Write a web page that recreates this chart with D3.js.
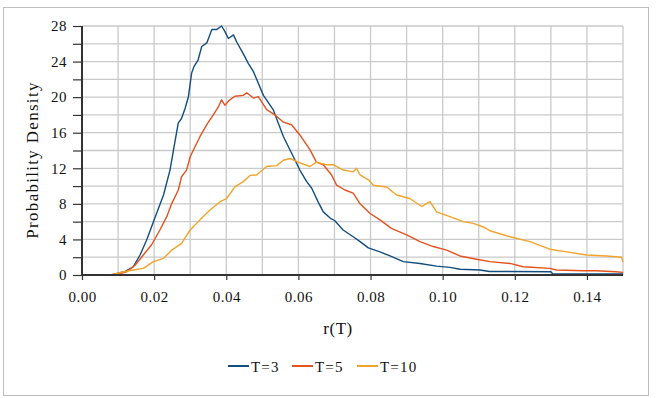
<!DOCTYPE html>
<html>
<head>
  <meta charset="utf-8" />
  <title>Probability Density of r(T)</title>
  <style>
    body { margin: 0; background: #fff; }
    text { font-family: "Liberation Serif", "Times New Roman", serif; fill: #111; }
  </style>
  <script src="https://cdnjs.cloudflare.com/ajax/libs/d3/7.8.5/d3.min.js"></script>
</head>
<body>
  <div id="chart"></div>
  <script>
    // values
    var seriesNames = ['T=3', 'T=5', 'T=10'];
    var seriesColors = ['#124e7e', '#e2531f', '#f0a42b'];

    var r3 = [0, 0.008, 0.010, 0.012, 0.0142, 0.0161, 0.0179, 0.0202, 0.0226, 0.0244, 0.0256, 0.0267, 0.0276, 0.0286, 0.0295,
      0.0304, 0.031, 0.0322, 0.0332, 0.0346, 0.036, 0.0373, 0.0387, 0.0396, 0.0406, 0.042, 0.0429, 0.0447, 0.0461, 0.0475,
      0.0503, 0.053, 0.0558, 0.0586, 0.0604, 0.0623, 0.0637, 0.0655, 0.0669, 0.0688, 0.0701, 0.0724, 0.0752, 0.0771, 0.0794,
      0.0826, 0.0854, 0.0891, 0.0937, 0.0983, 0.102, 0.1048, 0.1103, 0.113, 0.13, 0.1305, 0.15];
    var dens3 = [0, 0, 0.2, 0.4, 0.93, 2.25, 3.9, 6.4, 9.0, 11.8, 14.6, 17.1, 17.6, 18.75, 20.05,
      22.7, 23.4, 24.2, 25.7, 26.1, 27.6, 27.6, 28.0, 27.4, 26.6, 27.0, 26.2, 24.9, 23.8, 22.9,
      20.2, 18.6, 15.6, 13.3, 11.8, 10.5, 9.75, 8.2, 7.1, 6.4, 6.1, 5.06, 4.3, 3.75, 3.05,
      2.6, 2.14, 1.5, 1.3, 1.0, 0.86, 0.64, 0.56, 0.4, 0.37, 0.15, 0.12];

    var r5 = [0, 0.008, 0.0105, 0.0124, 0.0147, 0.017, 0.0193, 0.0216, 0.0235, 0.0249, 0.0267, 0.0276, 0.029, 0.03, 0.0313,
      0.0327, 0.0346, 0.0364, 0.0378, 0.0387, 0.0396, 0.041, 0.0424, 0.0447, 0.0457, 0.0475, 0.0489, 0.0512, 0.0535, 0.0558,
      0.0581, 0.0604, 0.0632, 0.065, 0.0669, 0.0692, 0.0706, 0.0729, 0.0752, 0.0771, 0.0798, 0.0826, 0.0858, 0.09, 0.0937,
      0.0974, 0.1011, 0.1048, 0.1094, 0.1131, 0.1187, 0.1223, 0.1297, 0.1316, 0.139, 0.1427, 0.148, 0.15];
    var dens5 = [0, 0, 0.15, 0.37, 1.1, 2.25, 3.4, 5.06, 6.56, 8.06, 9.56, 11.05, 11.8, 13.3, 14.4,
      15.55, 16.9, 18.0, 18.9, 19.7, 19.1, 19.7, 20.1, 20.2, 20.5, 19.9, 20.05, 18.6, 18.0, 17.2,
      16.9, 15.75, 14.1, 12.7, 12.4, 11.25, 10.1, 9.56, 9.2, 8.0, 6.94, 6.2, 5.25, 4.5, 3.75,
      3.2, 2.8, 2.14, 1.77, 1.5, 1.3, 0.93, 0.75, 0.56, 0.48, 0.48, 0.37, 0.3];

    var r10 = [0, 0.008, 0.0115, 0.0142, 0.017, 0.0198, 0.0226, 0.0249, 0.0276, 0.03, 0.0327, 0.0355, 0.0383, 0.0401, 0.0424,
      0.0447, 0.0466, 0.0484, 0.0512, 0.054, 0.0558, 0.0577, 0.0604, 0.0632, 0.065, 0.0678, 0.0697, 0.0724, 0.0752, 0.0761,
      0.0771, 0.0794, 0.0808, 0.0845, 0.0872, 0.0909, 0.0942, 0.0956, 0.0965, 0.0983, 0.102, 0.1057, 0.1085, 0.1113, 0.1131,
      0.1187, 0.1242, 0.1297, 0.1344, 0.1399, 0.1455, 0.1496, 0.15];
    var dens10 = [0, 0, 0.37, 0.56, 0.75, 1.5, 1.87, 2.8, 3.56, 5.06, 6.2, 7.3, 8.24, 8.6, 9.9,
      10.5, 11.2, 11.25, 12.2, 12.3, 12.9, 13.1, 12.6, 12.2, 12.7, 12.4, 12.4, 11.8, 11.6, 12.0,
      11.25, 10.7, 10.1, 9.9, 9.0, 8.6, 7.7, 8.06, 8.24, 7.1, 6.56, 6.0, 5.8, 5.4, 4.98,
      4.3, 3.75, 2.9, 2.6, 2.25, 2.14, 2.0, 1.5];

    var xTicks = [0, 0.02, 0.04, 0.06, 0.08, 0.10, 0.12, 0.14];
    var yTicks = [0, 4, 8, 12, 16, 20, 24, 28];

    var W = 656, H = 398;
    var plotL = 82, plotR = 623, plotT = 26, plotB = 275;

    var svg = d3.select('#chart').append('svg')
      .attr('width', W)
      .attr('height', H);

    // outer frame
    svg.append('rect')
      .attr('x', 3.5).attr('y', 7.5)
      .attr('width', 645).attr('height', 388)
      .attr('fill', '#fff')
      .attr('stroke', '#bdbdbd');

    var x = d3.scaleLinear().domain([0, 0.15]).range([plotL, plotR]);
    var y = d3.scaleLinear().domain([0, 28]).range([plotB, plotT]);

    // grid
    svg.append('g')
      .selectAll('line')
      .data(d3.range(1, 16).map(i => i / 100))
      .enter().append('line')
      .attr('x1', d => x(d)).attr('x2', d => x(d))
      .attr('y1', plotT).attr('y2', plotB)
      .attr('stroke', '#cacaca').attr('stroke-width', 1.3);

    svg.append('g')
      .selectAll('line')
      .data(d3.range(1, 15).map(i => i * 2))
      .enter().append('line')
      .attr('x1', plotL).attr('x2', plotR)
      .attr('y1', d => y(d)).attr('y2', d => y(d))
      .attr('stroke', '#cacaca').attr('stroke-width', 1.3);

    // y axis
    var yAxis = d3.axisLeft(y)
      .tickValues(d3.range(0, 29, 2))
      .tickSize(9)
      .tickFormat(d => yTicks.indexOf(d) >= 0 ? d : '');
    var gy = svg.append('g').attr('transform', 'translate(' + plotL + ',0)').call(yAxis);
    gy.select('.domain').remove();
    gy.selectAll('.tick line').attr('stroke', '#333').attr('stroke-width', 1.2);
    gy.selectAll('.tick text')
      .attr('x', -15)
      .style('font-family', '"Liberation Serif", serif')
      .style('font-size', '15px')
      .style('letter-spacing', '0.5px')
      .attr('fill', '#111');

    // x axis
    var xAxis = d3.axisBottom(x)
      .tickValues(xTicks)
      .tickSize(5)
      .tickFormat(d3.format('.2f'));
    var gx = svg.append('g').attr('transform', 'translate(0,' + plotB + ')').call(xAxis);
    gx.select('.domain').remove();
    gx.selectAll('.tick line').attr('stroke', '#333').attr('stroke-width', 1.2);
    gx.selectAll('.tick text')
      .attr('y', 16)
      .style('font-family', '"Liberation Serif", serif')
      .style('font-size', '15px')
      .style('letter-spacing', '0.5px')
      .attr('fill', '#111');

    // series
    var rs = [r3, r5, r10];
    var ds = [dens3, dens5, dens10];
    var line = d3.line()
      .x(d => x(d[0]))
      .y(d => y(d[1]));

    rs.forEach(function (rArr, i) {
      var pts = rArr.map((r, j) => [r, ds[i][j]]);
      svg.append('path')
        .datum(pts)
        .attr('d', line)
        .attr('fill', 'none')
        .attr('stroke', seriesColors[i])
        .attr('stroke-width', 1.4)
        .attr('stroke-linejoin', 'round');
    });

    // axis lines on top
    svg.append('line')
      .attr('x1', plotL).attr('x2', plotL)
      .attr('y1', plotT).attr('y2', plotB + 1)
      .attr('stroke', '#333').attr('stroke-width', 2);
    svg.append('line')
      .attr('x1', plotL - 1).attr('x2', plotR)
      .attr('y1', plotB).attr('y2', plotB)
      .attr('stroke', '#333').attr('stroke-width', 2.2);

    // titles
    svg.append('text')
      .attr('transform', 'translate(32,160) rotate(-90)')
      .attr('text-anchor', 'middle')
      .attr('dominant-baseline', 'central')
      .style('font-size', '17px')
      .style('letter-spacing', '1.3px')
      .text('Probability Density');

    svg.append('text')
      .attr('x', 338).attr('y', 334)
      .attr('text-anchor', 'middle')
      .style('font-size', '17px')
      .style('letter-spacing', '0.5px')
      .text('r(T)');

    // legend
    var legX = [228, 292, 357];
    var leg = svg.append('g').selectAll('g')
      .data(seriesNames)
      .enter().append('g')
      .attr('transform', (d, i) => 'translate(' + legX[i] + ',366)');
    leg.append('line')
      .attr('x1', 0).attr('x2', 21)
      .attr('stroke', (d, i) => seriesColors[i])
      .attr('stroke-width', 2);
    leg.append('text')
      .attr('x', 23).attr('y', 5.5)
      .style('font-size', '15px')
      .style('letter-spacing', '1.2px')
      .text(d => d);
  </script>
</body>
</html>
